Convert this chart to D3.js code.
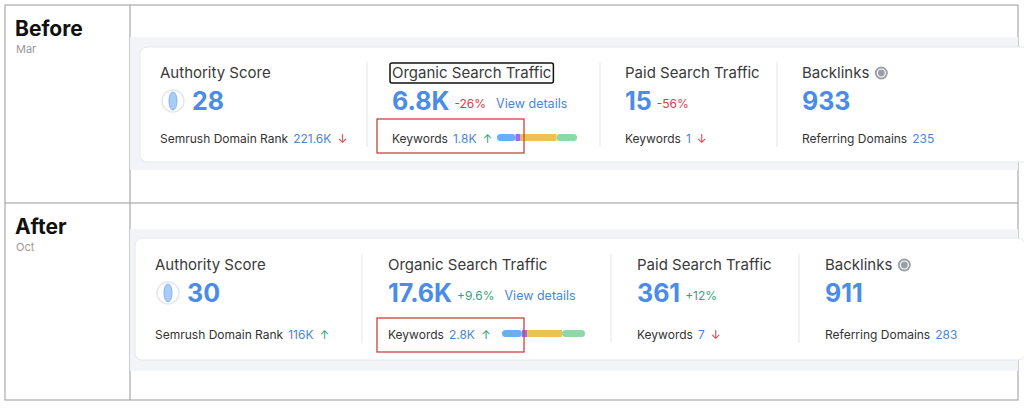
<!DOCTYPE html>
<html><head><meta charset="utf-8">
<script src="https://cdn.jsdelivr.net/npm/d3@7"></script>
<style>body{margin:0;background:#fff;font-family:Inter,"Noto Sans",sans-serif}</style>
</head><body><svg id="c" width="1024" height="409"></svg>
<script>
// Data
const periods = ['Before', 'After'];
const months = ['Mar', 'Oct'];
const metricTitles = ['Authority Score', 'Organic Search Traffic', 'Paid Search Traffic', 'Backlinks'];
const mainValues = [['28', '6.8K', '15', '933'], ['30', '17.6K', '361', '911']];
const changes = [[null, '-26%', '-56%', null], [null, '+9.6%', '+12%', null]];
const subLabels = ['Semrush Domain Rank', 'Keywords', 'Keywords', 'Referring Domains'];
const subValues = [['221.6K', '1.8K', '1', '235'], ['116K', '2.8K', '7', '283']];
const subArrows = [['down', 'up', 'down', null], ['up', 'up', 'down', null]];
const kwShares = [[18, 5, 35, 20], [20, 5, 35, 23]];
const kwColors = ['#67b0f7', '#9b6cf0', '#edc255', '#8dd8a6'];

const svg = d3.select('#c');
const rowTop = [5, 203];
const blue = '#4a8ce8', linkBlue = '#4a86d6', red = '#d2404b', green = '#3aa07a';

// table lines
svg.append('rect').attr('x', 5).attr('y', 5).attr('width', 1013).attr('height', 395)
  .attr('fill', 'none').attr('stroke', '#999');
svg.append('line').attr('x1', 130).attr('x2', 130).attr('y1', 5).attr('y2', 400).attr('stroke', '#999');
svg.append('line').attr('x1', 5).attr('x2', 1018).attr('y1', 203).attr('y2', 203).attr('stroke', '#999');

const layouts = [
  { panel: [130, 37, 888, 133], card: [140, 47, 890, 115], cols: [160, 392, 625, 802], seps: [367, 600, 777], title: 78, val: 110, sub: 143, barX: 497, barW: 80 },
  { panel: [130, 229, 888, 142], card: [135, 238, 890, 122], cols: [155, 388, 637, 825], seps: [362, 611, 799], title: 270, val: 302, sub: 339, barX: 502, barW: 83 }
];

periods.forEach((p, i) => {
  svg.append('text').attr('x', 15).attr('y', rowTop[i] + 31).attr('font-size', 21).attr('font-weight', 700)
    .attr('fill', '#111').text(p);
  svg.append('text').attr('x', 16).attr('y', rowTop[i] + 48).attr('font-size', 11).attr('fill', '#999').text(months[i]);

  const L = layouts[i];
  svg.append('rect').attr('x', L.panel[0]).attr('y', L.panel[1]).attr('width', L.panel[2]).attr('height', L.panel[3]).attr('fill', '#f3f4f7');
  svg.append('rect').attr('x', L.card[0]).attr('y', L.card[1]).attr('width', L.card[2]).attr('height', L.card[3])
    .attr('rx', 7).attr('fill', '#fff').attr('stroke', '#e6e8ee');
  L.seps.forEach(x => svg.append('line').attr('x1', x).attr('x2', x).attr('y1', L.title - 16).attr('y2', L.sub + 4).attr('stroke', '#e3e5ea'));

  metricTitles.forEach((t, j) => {
    const x = L.cols[j];
    const tt = svg.append('text').attr('x', x).attr('y', L.title).attr('font-size', 15).attr('fill', '#3a3a3a').text(t);
    if (j === 3) {
      const w = tt.node().getComputedTextLength();
      svg.append('circle').attr('cx', x + w + 12).attr('cy', L.title - 5).attr('r', 6.5).attr('fill', '#9aa0a8');
      svg.append('circle').attr('cx', x + w + 12).attr('cy', L.title - 5).attr('r', 4).attr('fill', 'none').attr('stroke', '#fff').attr('stroke-width', 1.2);
    }
    if (i === 0 && j === 1) {
      const w = tt.node().getComputedTextLength();
      svg.append('rect').attr('x', x - 2).attr('y', L.title - 15).attr('width', w + 4).attr('height', 20)
        .attr('rx', 2).attr('fill', 'none').attr('stroke', '#111').attr('stroke-width', 1.5);
    }
    let vx = x;
    if (j === 0) {
      svg.append('circle').attr('cx', x + 13).attr('cy', L.val - 9).attr('r', 11).attr('fill', '#fff').attr('stroke', '#e5e7eb').attr('stroke-width', 1.5);
      svg.append('ellipse').attr('cx', x + 13).attr('cy', L.val - 9).attr('rx', 4).attr('ry', 9).attr('fill', '#a9cdf7').attr('stroke', '#7fb4f2');
      vx = x + 32;
    }
    const vt = svg.append('text').attr('x', vx).attr('y', L.val).attr('font-size', 25).attr('font-weight', 700).attr('fill', blue).text(mainValues[i][j]);
    let cx = vx + vt.node().getComputedTextLength() + 5;
    const ch = changes[i][j];
    if (ch) {
      const ct = svg.append('text').attr('x', cx).attr('y', L.val - 2).attr('font-size', 12)
        .attr('fill', ch[0] === '-' ? red : green).text(ch);
      cx += ct.node().getComputedTextLength() + 10;
      if (j === 1) svg.append('text').attr('x', cx).attr('y', L.val - 2).attr('font-size', 12.5).attr('fill', linkBlue).text('View details');
    }
    const st = svg.append('text').attr('x', x).attr('y', L.sub).attr('font-size', 12).attr('fill', '#333').text(subLabels[j]);
    let sx = x + st.node().getComputedTextLength() + 5;
    const sv = svg.append('text').attr('x', sx).attr('y', L.sub).attr('font-size', 12).attr('fill', linkBlue).text(subValues[i][j]);
    sx += sv.node().getComputedTextLength() + 6;
    const arr = subArrows[i][j];
    if (arr) svg.append('text').attr('x', sx).attr('y', L.sub).attr('font-size', 12)
      .attr('fill', arr === 'up' ? green : red).text(arr === 'up' ? '↑' : '↓');
    if (j === 1) {
      // keyword distribution bar
      const total = d3.sum(kwShares[i]);
      const xs = d3.scaleLinear().domain([0, total]).range([L.barX, L.barX + L.barW]);
      const cum = d3.cumsum(kwShares[i]);
      svg.append('g').selectAll('rect').data(kwShares[i]).join('rect')
        .attr('x', (d, k) => xs(cum[k] - d)).attr('width', (d, k) => xs(cum[k]) - xs(cum[k] - d))
        .attr('y', L.sub - 9).attr('height', 7).attr('rx', (d, k) => (k === 0 || k === 3) ? 3.5 : 0)
        .attr('fill', (d, k) => kwColors[k]);
      // red highlight box
      const by = i === 0 ? 119 : 318;
      svg.append('rect').attr('x', 377).attr('y', by).attr('width', 147).attr('height', 34)
        .attr('fill', 'none').attr('stroke', '#c9433f').attr('stroke-width', 1.3);
    }
  });
});
</script></body></html>
